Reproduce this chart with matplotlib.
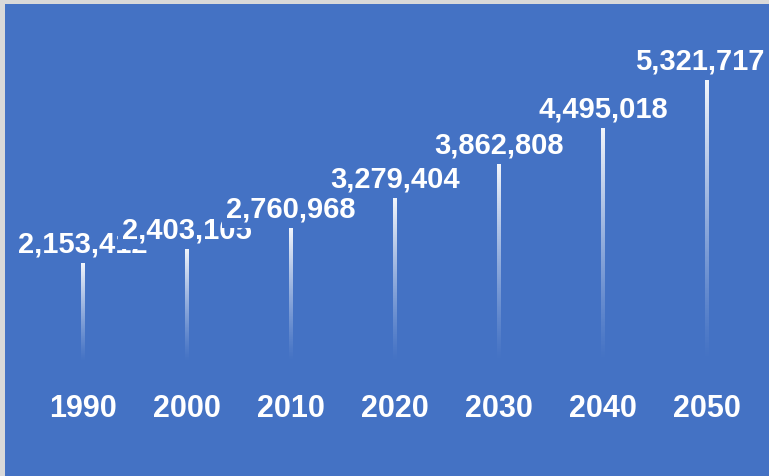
import numpy as np
import matplotlib
matplotlib.use("Agg")
import matplotlib.pyplot as plt
from matplotlib.patches import Rectangle

years = ["1990", "2000", "2010", "2020", "2030", "2040", "2050"]
values = [2153412, 2403105, 2760968, 3279404, 3862808, 4495018, 5321717]

BLUE = "#4472C4"
W, H = 769, 476
fig = plt.figure(figsize=(W / 100, H / 100), dpi=100)
fig.patch.set_facecolor("#d9d9d9")
fig.patches.append(Rectangle((5 / W, 0), 1, 1 - 4 / H, transform=fig.transFigure,
                             facecolor=BLUE, edgecolor="none", zorder=-10))

ax = fig.add_axes([31 / W, 114 / H, 728 / W, 358 / H])
ax.set_zorder(5)
ax.set_facecolor("none")
base = 443000
ymax = base + 358 / 57.8 * 1e6
for s in ax.spines.values():
    s.set_visible(False)
ax.set_yticks([])

x = np.arange(len(years))
bars = ax.bar(x, [v - base for v in values], bottom=base, width=0.03,
              facecolor="none", edgecolor="none")

grad = np.zeros((256, 1, 4))
grad[..., :3] = 1.0
grad[:, 0, 3] = np.linspace(0.0, 0.95, 256) ** 1.2
for p in bars.patches:
    bb = p.get_bbox()
    im = ax.imshow(grad, extent=[bb.x0, bb.x1, bb.y0, bb.y1], origin="lower",
                   aspect="auto", zorder=2, interpolation="bilinear")
    im.set_clip_path(p)
ax.set_xlim(-0.5, len(years) - 0.5)
ax.set_ylim(base, ymax)

font = dict(family="Liberation Sans", weight="bold", color="white", size=21)
n = len(values)
for i, (xi, v) in enumerate(zip(x, values)):
    dx = -5 if i == n - 1 else 0  # keep last label inside the chart area
    ax.annotate(f"{v:,}", xy=(xi, v), xytext=(dx, 7.5), textcoords="offset points",
                ha="center", va="baseline", zorder=5, annotation_clip=False,
                bbox=dict(boxstyle="square,pad=0.15", facecolor=BLUE, edgecolor="none"),
                **font)

ax.set_xticks(x)
ax.set_xticklabels(years, fontfamily="Liberation Sans", fontweight="bold",
                   color="white", fontsize=22)
ax.tick_params(axis="x", length=0, pad=23)

fig.savefig("out.png", dpi=100, facecolor=fig.get_facecolor())
